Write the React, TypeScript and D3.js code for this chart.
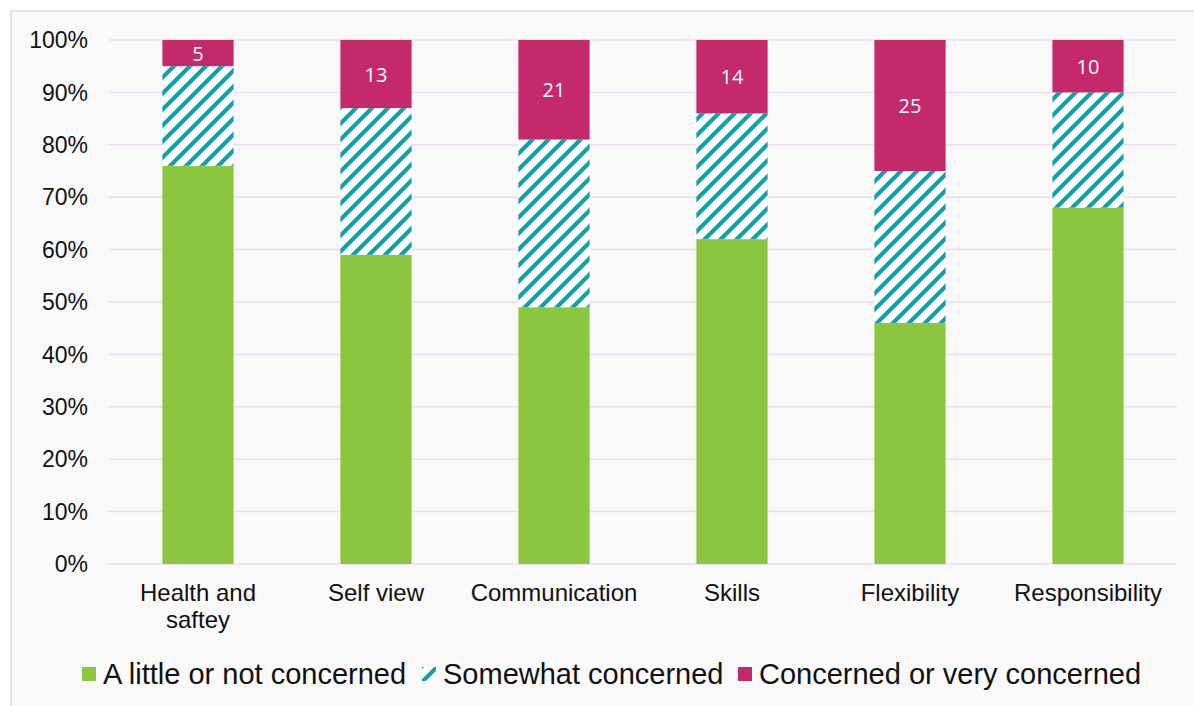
import React from "react";
import * as d3 from "d3";

const categories = [["Health and", "saftey"], ["Self view"], ["Communication"], ["Skills"], ["Flexibility"], ["Responsibility"]];
const littleOrNot = [76, 59, 49, 62, 46, 68];
const somewhat = [19, 28, 32, 24, 29, 22];
const concerned = [5, 13, 19, 14, 25, 10];
const concernedLabels = ["5", "13", "21", "14", "25", "10"];
const yTicks = [0, 10, 20, 30, 40, 50, 60, 70, 80, 90, 100];
const seriesNames = ["A little or not concerned", "Somewhat concerned", "Concerned or very concerned"];

const W = 1194, H = 706;
const GREEN = "#8cc63f", TEAL = "#0fa0ab", MAGENTA = "#c3296b", GRID = "#eedaf2";

export default function App() {
  const keys = categories.map((c) => c.join(" "));
  const x = d3.scaleBand<string>().domain(keys).range([109, 1177]).paddingInner(0.6).paddingOuter(0.3);
  const y = d3.scaleLinear().domain([0, 100]).range([564, 40]);
  const rows = keys.map((k, i) => ({ key: k, vals: [littleOrNot[i], somewhat[i], concerned[i]] }));
  const stack = d3.stack<any>().keys(["0", "1", "2"]).value((d: any, key: string) => d.vals[+key]);
  const stacked = stack(rows);
  const fills = [GREEN, "url(#hatch)", MAGENTA];
  const legendX = [82, 422, 738];
  const P = 16;
  return (
    <svg width={W} height={H} style={{ position: "absolute", left: 0, top: 0 }} fontFamily="'Liberation Sans', Arial, sans-serif">
      <defs>
        <pattern id="hatch" patternUnits="userSpaceOnUse" width={P} height={P}>
          <rect width={P} height={P} fill="#ffffff" />
          <path d={`M-4,4 L4,-4 M0,${P} L${P},0 M${P - 4},${P + 4} L${P + 4},${P - 4}`} stroke={TEAL} strokeWidth={4.2} />
        </pattern>
      </defs>
      <rect x={0} y={0} width={W} height={H} fill="#ffffff" />
      <rect x={11} y={11} width={W + 20} height={H + 20} fill="#f9f9f9" stroke={GRID} strokeWidth={2} />
      {yTicks.map((t) => (
        <g key={t}>
          <line x1={109} x2={1177} y1={y(t)} y2={y(t)} stroke={GRID} strokeWidth={1.5} />
          <text x={88} y={y(t)} dy="0.36em" textAnchor="end" fontSize={23} fill="#111">{t}%</text>
        </g>
      ))}
      {stacked.map((layer, li) => (
        <g key={li}>
          {layer.map((d: any, i: number) => (
            <rect key={i} x={x(d.data.key)} width={x.bandwidth()} y={y(d[1])} height={y(d[0]) - y(d[1])} fill={fills[li]} />
          ))}
        </g>
      ))}
      {stacked[2].map((d: any, i: number) => (
        <text key={i} x={(x(d.data.key) as number) + x.bandwidth() / 2} y={(y(d[0]) + y(d[1])) / 2} dy="0.38em" textAnchor="middle" fontSize={20} fill="#ffffff" fontFamily="'Open Sans', sans-serif">{concernedLabels[i]}</text>
      ))}
      {categories.map((c, i) => (
        <text key={i} x={(x(keys[i]) as number) + x.bandwidth() / 2} y={601} textAnchor="middle" fontSize={24} fill="#111">
          {c.map((line, j) => (
            <tspan key={j} x={(x(keys[i]) as number) + x.bandwidth() / 2} dy={j === 0 ? 0 : 27}>{line}</tspan>
          ))}
        </text>
      ))}
      {seriesNames.map((n, i) => (
        <g key={n}>
          <rect x={legendX[i]} y={667} width={14} height={14} fill={[GREEN, "url(#hatch)", MAGENTA][i]} />
          <text x={legendX[i] + 21} y={684} fontSize={29} fill="#111">{n}</text>
        </g>
      ))}
    </svg>
  );
}
